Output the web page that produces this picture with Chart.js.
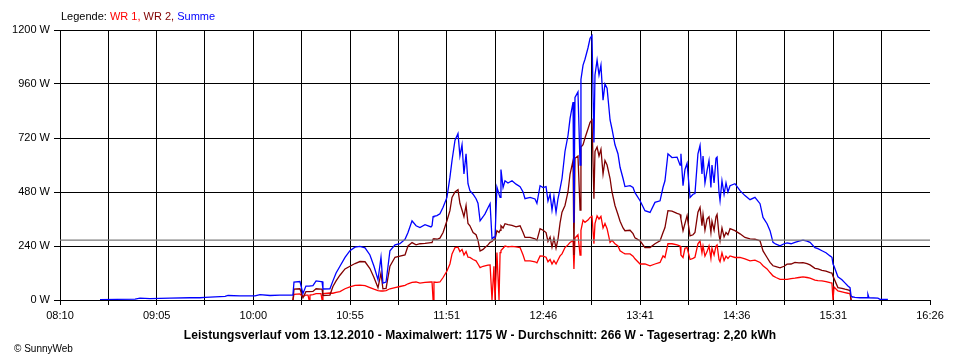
<!DOCTYPE html>
<html><head><meta charset="utf-8">
<script src="https://cdn.jsdelivr.net/npm/chart.js@4"></script>
<style>
html,body{margin:0;padding:0;background:#fff;}
#wrap{position:relative;width:960px;height:360px;font-family:"Liberation Sans",Arial,sans-serif;color:#000;}
canvas{position:absolute;left:0;top:0;}
#legend{position:absolute;left:61px;top:10px;font-size:11px;line-height:13px;white-space:nowrap;}
#foot{position:absolute;left:0;width:960px;top:328px;text-align:center;font-weight:bold;font-size:12px;letter-spacing:0.1px;line-height:14px;white-space:nowrap;}
#copy{position:absolute;left:14px;top:343px;font-size:10px;line-height:12px;white-space:nowrap;}
</style></head>
<body>
<div id="wrap">
<canvas id="c" width="960" height="360"></canvas>
<div id="legend">Legende: <span style="color:#ff0000">WR 1,</span> <span style="color:#800000">WR 2,</span> <span style="color:#0000ff">Summe</span></div>
<div id="foot">Leistungsverlauf vom 13.12.2010 - Maximalwert: 1175 W - Durchschnitt: 266 W - Tagesertrag: 2,20 kWh</div>
<div id="copy">© SunnyWeb</div>
</div>
<script>
// time in minutes after midnight
const times = [512.8,532.8,535.6,541.3,552.7,564.1,569.8,572.7,578.4,584.1,585.8,592.6,601.2,604.0,609.7,615.4,621.1,
622.8,623.4,626.8,628.5,630.2,631.4,632.0,632.5,634.2,636.0,638.8,639.4,639.9,643.9,645.6,647.4,649.6,652.5,655.3,658.2,
661.0,663.9,666.7,669.0,671.3,673.0,674.1,675.9,678.1,681.0,683.8,686.7,688.4,690.7,693.0,695.2,698.1,701.5,702.1,702.7,
703.2,704.9,706.6,708.4,710.6,712.3,713.5,715.2,716.9,718.0,719.2,720.3,721.5,722.6,723.7,725.5,727.2,728.3,729.5,731.2,
732.3,734.0,735.2,736.3,737.4,738.0,739.1,740.3,740.9,741.4,742.6,743.7,745.4,747.7,750.0,752.3,754.0,755.1,758.0,760.8,
761.9,763.7,765.4,767.1,768.2,769.4,770.5,771.6,772.8,773.9,775.1,776.2,777.9,779.6,780.8,782.5,783.0,783.6,785.3,786.5,
787.0,788.2,789.3,791.0,792.2,793.3,794.4,795.0,796.2,797.3,798.4,799.6,800.7,801.9,803.6,804.7,806.4,808.1,809.3,811.0,
812.1,815.0,816.7,817.8,820.7,823.5,826.4,829.2,832.1,833.8,834.9,836.6,838.9,841.8,843.5,844.0,845.2,846.3,847.5,849.2,
850.9,852.0,853.7,854.9,856.0,856.6,857.7,858.9,860.0,861.1,861.7,862.9,864.0,864.6,865.7,866.3,867.4,868.6,869.7,870.8,
872.0,874.8,877.7,880.5,883.4,886.2,889.1,890.8,893.1,894.8,896.5,898.2,900.5,902.8,904.5,906.8,909.0,911.3,913.6,915.9,
917.6,920.4,922.1,924.4,926.7,929.0,930.1,930.7,931.3,933.5,935.8,937.5,939.2,940.4,941.0,941.5,943.2,946.1,950.1,950.6,
951.2,956.3,957.5,962.0];

const summe = [2,4,8,6,8,10,10,12,14,16,20,18,18,24,20,22,22,
22,80,82,28,62,62,62,62,64,85,82,82,49,50,85,120,150,189,219,235,
238,232,200,150,90,190,75,80,219,245,250,270,300,352,330,322,335,325,330,370,
372,375,383,412,456,545,620,710,740,640,690,560,650,517,486,470,450,430,352,370,
383,410,428,272,280,278,501,470,456,580,500,530,520,530,515,504,480,450,456,449,
430,508,500,504,440,470,400,460,390,450,495,540,660,730,807,880,343,900,925,600,
980,1044,1070,1120,1163,1175,700,1000,1066,1000,1044,888,960,941,800,760,690,650,590,540,
504,508,500,477,441,397,389,434,441,501,530,650,633,635,600,650,508,580,607,456,
470,473,650,687,560,640,520,575,620,500,600,520,630,635,480,441,530,470,520,480,
508,517,486,464,446,456,428,367,339,308,256,248,241,250,254,250,256,262,266,262,
256,233,228,219,210,196,190,160,150,103,90,76,62,55,18,15,12,10,10,25,
10,8,3,3];

const wr2 = [null,null,null,null,null,null,null,null,null,null,null,null,null,null,null,null,null,
0,48,50,10,37,37,37,37,38,50,48,48,20,22,60,85,110,138,150,162,
171,170,140,100,55,120,50,52,150,190,195,200,240,255,245,250,252,255,255,270,
272,270,275,300,352,397,456,480,490,430,400,370,420,340,330,300,290,265,218,225,
233,245,256,260,270,270,308,300,310,330,320,339,335,332,325,330,300,278,278,272,
265,317,310,300,260,280,235,275,230,270,343,390,420,480,560,620,200,630,640,400,
680,690,720,760,790,800,450,660,680,640,670,560,620,600,540,480,420,380,350,320,
308,310,295,276,263,233,233,250,263,300,322,397,395,385,380,360,308,340,375,285,
290,300,390,412,330,380,310,360,370,300,350,310,370,380,290,263,320,280,300,290,
317,308,294,278,272,270,263,218,189,167,152,148,143,150,159,160,167,165,166,162,
156,141,138,132,128,122,120,105,95,55,52,48,45,42,0,null,null,null,null,null,
null,null,null,null];

const wr1 = [null,null,null,null,null,null,null,null,null,null,null,null,null,null,null,null,null,
0,25,27,15,22,22,0,22,24,28,28,0,28,31,30,34,37,50,58,65,
66,64,55,48,42,40,40,42,50,55,60,65,72,78,80,75,78,80,80,0,
80,78,80,100,129,160,205,233,235,215,225,200,215,190,189,180,174,160,144,150,
152,155,156,0,150,0,211,0,211,220,230,240,236,238,236,233,200,174,174,170,
165,196,195,190,170,180,160,175,160,178,196,205,233,245,256,265,138,275,290,200,
310,355,345,355,367,372,250,340,374,360,372,320,340,317,256,265,250,240,219,210,
205,205,195,183,160,160,152,160,167,196,189,250,250,245,240,200,189,230,233,180,
185,190,250,263,210,240,195,215,240,185,230,200,240,245,180,170,210,175,195,185,
196,189,189,183,174,177,167,152,138,122,107,100,92,92,92,95,97,100,103,100,
97,88,86,85,82,77,75,0,58,40,36,33,30,27,0,null,null,null,null,null,
null,null,null,null];

const avgW = 266;
const xMin = 490, xMax = 986;
const xTickLabels = ['08:10','','09:05','','10:00','','10:55','','11:51','','12:46','','13:41','','14:36','','15:31','','16:26'];
const yTicks = [0,240,480,720,960,1200];

function pts(vals){
  const out=[];
  for(let i=0;i<times.length;i++){ if(vals[i]!==null) out.push({x:times[i],y:vals[i]}); }
  return out;
}
const font = {family:'"Liberation Sans", Arial, sans-serif', size:11};

new Chart(document.getElementById('c'), {
  type:'line',
  data:{datasets:[
    {label:'Durchschnitt', data:[{x:xMin,y:avgW},{x:xMax,y:avgW}], borderColor:'#7a7a7a', borderWidth:1.3, order:0},
    {label:'Summe', data:pts(summe), borderColor:'#0000ff', order:1},
    {label:'WR 2', data:pts(wr2), borderColor:'#800000', order:2},
    {label:'WR 1', data:pts(wr1), borderColor:'#ff0000', order:3}
  ]},
  options:{
    responsive:false, animation:false, devicePixelRatio:1,
    layout:{padding:{top:30,right:30,left:0,bottom:0}},
    elements:{point:{radius:0}, line:{borderWidth:1.3, tension:0, fill:false}},
    plugins:{legend:{display:false}, tooltip:{enabled:false}, title:{display:false}},
    scales:{
      x:{type:'linear', min:xMin, max:xMax,
        afterBuildTicks:(s)=>{ s.ticks = xTickLabels.map((l,i)=>({value: xMin + i*(xMax-xMin)/(xTickLabels.length-1)})); },
        afterFit:(s)=>{ s.height = 60; },
        grid:{color:(c)=> (c.index === xTickLabels.length-1 ? 'rgba(0,0,0,0)' : '#000'), tickColor:'#000', lineWidth:1, tickLength:5, drawTicks:true},
        border:{color:'#000', width:1},
        ticks:{autoSkip:false, maxRotation:0, minRotation:0, padding:4, color:'#000', font:font,
          callback:(v,i)=>xTickLabels[i]}
      },
      y:{type:'linear', min:0, max:1200,
        afterBuildTicks:(s)=>{ s.ticks = yTicks.map(v=>({value:v})); },
        afterFit:(s)=>{ s.width = 60; },
        grid:{color:'#000', lineWidth:1, tickLength:6, drawTicks:true},
        border:{color:'#000', width:1},
        ticks:{padding:4, color:'#000', font:font, callback:(v)=>v+' W'}
      }
    }
  }
});
</script>
</body></html>
